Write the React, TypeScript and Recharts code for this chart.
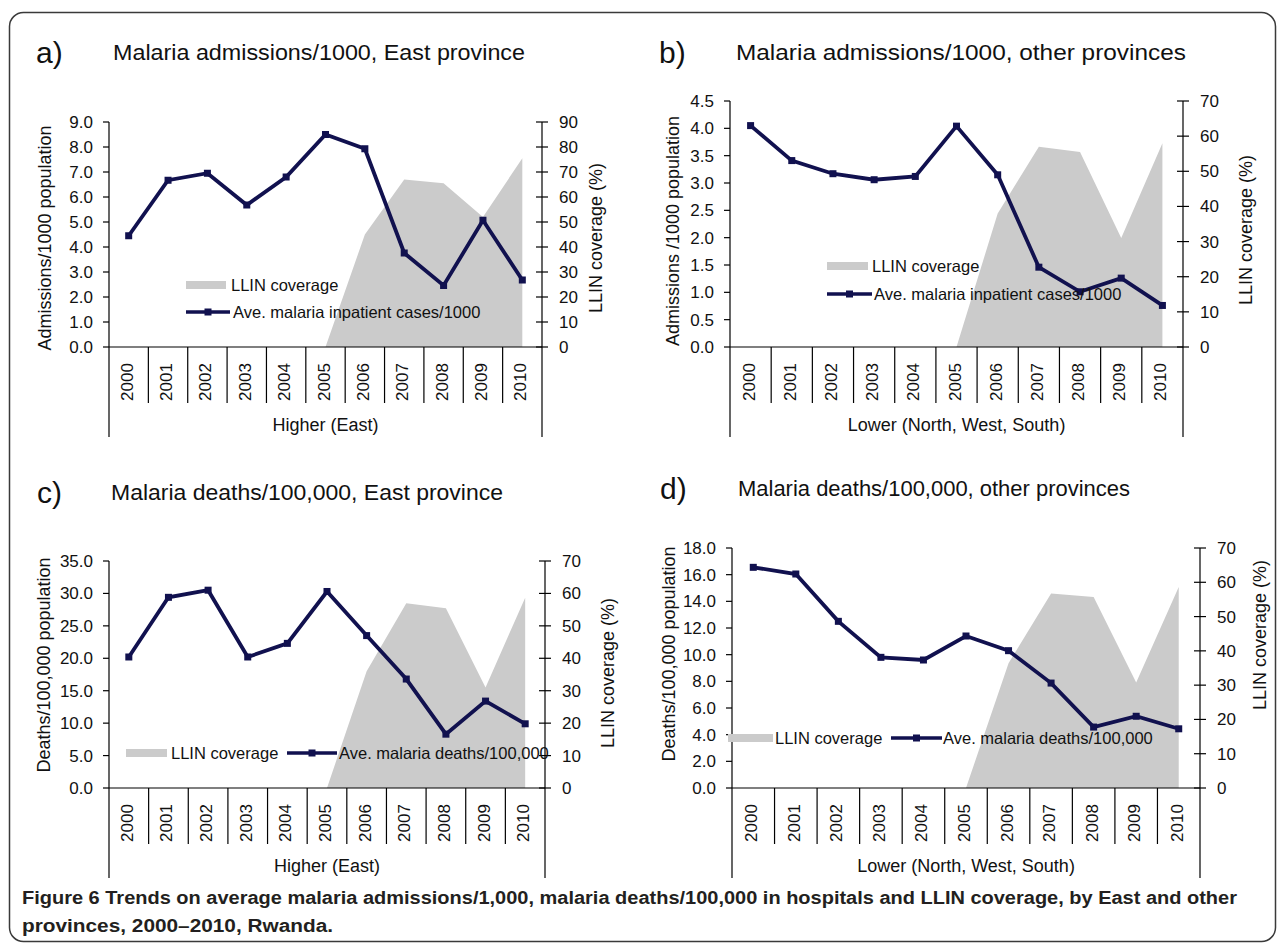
import React from 'react';
import { ComposedChart, Area, Line, XAxis, YAxis, Legend } from 'recharts';

// ---------- data ----------
const years = ['2000', '2001', '2002', '2003', '2004', '2005', '2006', '2007', '2008', '2009', '2010'];

const admissionsEast = [4.45, 6.67, 6.95, 5.68, 6.8, 8.5, 7.93, 3.76, 2.46, 5.07, 2.68];
const admissionsOther = [4.05, 3.41, 3.17, 3.06, 3.12, 4.04, 3.15, 1.46, 1.01, 1.26, 0.76];
const deathsEast = [20.2, 29.4, 30.5, 20.2, 22.3, 30.3, 23.5, 16.8, 8.3, 13.4, 9.9];
const deathsOther = [16.55, 16.05, 12.5, 9.8, 9.6, 11.4, 10.3, 7.87, 4.57, 5.38, 4.44];

const llinA = [null, null, null, null, null, 0, 45, 67, 65.5, 52, 75.5];
const llinB = [null, null, null, null, null, 0, 38, 57, 55.5, 31, 58];
const llinC = [null, null, null, null, null, 0, 36, 57, 55.4, 31, 58.7];
const llinD = [null, null, null, null, null, 0, 36.4, 56.7, 55.7, 30.8, 58.6];

const leftTicksA = [0, 1, 2, 3, 4, 5, 6, 7, 8, 9];
const leftTicksB = [0, 0.5, 1, 1.5, 2, 2.5, 3, 3.5, 4, 4.5];
const leftTicksC = [0, 5, 10, 15, 20, 25, 30, 35];
const leftTicksD = [0, 2, 4, 6, 8, 10, 12, 14, 16, 18];
const rightTicks90 = [0, 10, 20, 30, 40, 50, 60, 70, 80, 90];
const rightTicks70 = [0, 10, 20, 30, 40, 50, 60, 70];

const FONT = '"Liberation Sans", Arial, sans-serif';
const NAVY = '#11114f';
const GRAY = '#cbcbcb';
const INK = '#111111';

type Rect = { left: number; right: number; top: number; bottom: number };
type Panel = {
  id: string;
  plot: Rect;
  line: number[];
  llin: (number | null)[];
  leftTicks: number[];
  rightTicks: number[];
  group: string;
  lineName: string;
  legend: {
    swX: number; swW: number; swY: number; txt1X: number;
    lnX: number; lnW: number; lnY: number; txt2X: number;
  };
};

const panels: Panel[] = [
  {
    id: 'a', plot: { left: 109, right: 542, top: 122, bottom: 347 },
    line: admissionsEast, llin: llinA, leftTicks: leftTicksA, rightTicks: rightTicks90,
    group: 'Higher (East)', lineName: 'Ave. malaria inpatient cases/1000',
    legend: { swX: 186, swW: 40, swY: 285, txt1X: 231, lnX: 186, lnW: 44, lnY: 312, txt2X: 233 },
  },
  {
    id: 'b', plot: { left: 730, right: 1183, top: 101, bottom: 347 },
    line: admissionsOther, llin: llinB, leftTicks: leftTicksB, rightTicks: rightTicks70,
    group: 'Lower (North, West, South)', lineName: 'Ave. malaria inpatient cases/1000',
    legend: { swX: 827, swW: 41, swY: 266, txt1X: 872, lnX: 827, lnW: 45, lnY: 294, txt2X: 874 },
  },
  {
    id: 'c', plot: { left: 109, right: 545, top: 561, bottom: 788 },
    line: deathsEast, llin: llinC, leftTicks: leftTicksC, rightTicks: rightTicks70,
    group: 'Higher (East)', lineName: 'Ave. malaria deaths/100,000',
    legend: { swX: 126, swW: 41, swY: 753, txt1X: 171, lnX: 287, lnW: 50, lnY: 753, txt2X: 339 },
  },
  {
    id: 'd', plot: { left: 732, right: 1200, top: 548, bottom: 788 },
    line: deathsOther, llin: llinD, leftTicks: leftTicksD, rightTicks: rightTicks70,
    group: 'Lower (North, West, South)', lineName: 'Ave. malaria deaths/100,000',
    legend: { swX: 728, swW: 45, swY: 738, txt1X: 775, lnX: 891, lnW: 51, lnY: 738, txt2X: 943 },
  },
];

const titles = [
  { letter: 'a)', lx: 36, ly: 63, text: 'Malaria admissions/1000, East province', tx: 113, ty: 60, len: 412 },
  { letter: 'b)', lx: 659, ly: 63, text: 'Malaria admissions/1000, other provinces', tx: 736, ty: 60, len: 450 },
  { letter: 'c)', lx: 37, ly: 503, text: 'Malaria deaths/100,000, East province', tx: 111, ty: 500, len: 392 },
  { letter: 'd)', lx: 660, ly: 499, text: 'Malaria deaths/100,000, other provinces', tx: 738, ty: 496, len: 392 },
];

const axisTitles = [
  { text: 'Admissions/1000 population', x: 45, y: 238 },
  { text: 'LLIN coverage (%)', x: 596, y: 238 },
  { text: 'Admissions /1000 population', x: 673, y: 231 },
  { text: 'LLIN coverage (%)', x: 1246, y: 230 },
  { text: 'Deaths/100,000 population', x: 44, y: 665 },
  { text: 'LLIN coverage (%)', x: 608, y: 673 },
  { text: 'Deaths/100,000 population', x: 669, y: 654 },
  { text: 'LLIN coverage (%)', x: 1260, y: 635 },
];

const captionLine1 = 'Trends on average malaria admissions/1,000, malaria deaths/100,000 in hospitals and LLIN coverage, by East and other';
const captionLine2 = 'provinces, 2000\u20132010, Rwanda.';

// ---------- components ----------
const SquareDot = (props: any) => {
  const { cx, cy } = props;
  if (cx == null || cy == null) return <g key={props.key} />;
  return <rect key={props.key} x={cx - 3.5} y={cy - 3.5} width={7} height={7} fill={NAVY} />;
};

function PanelChart({ p }: { p: Panel }) {
  const box = {
    left: p.plot.left - 75,
    top: p.plot.top - 12,
    right: p.plot.right + 60,
    bottom: p.plot.bottom + 100,
  };
  const width = box.right - box.left;
  const height = box.bottom - box.top;
  const data = years.map((y, i) => ({ year: y, rate: p.line[i], llin: p.llin[i] }));
  const bw = (p.plot.right - p.plot.left) / years.length;
  const axisY = p.plot.bottom - box.top;
  const pl = p.plot.left - box.left;
  const pr = p.plot.right - box.left;

  const XTick = (props: any) => {
    const { x, index, payload } = props;
    return (
      <g>
        <text
          transform={`translate(${x + 4}, ${axisY + 35}) rotate(-90)`}
          textAnchor="middle"
          fontSize={17}
          fontFamily={FONT}
          fill={INK}
        >
          {payload.value}
        </text>
        {index > 0 && <line x1={x - bw / 2} x2={x - bw / 2} y1={axisY} y2={axisY + 56} stroke="#000" strokeWidth={1.2} />}
        {index === 0 && <line x1={pl} x2={pl} y1={axisY} y2={axisY + 90} stroke="#000" strokeWidth={1.2} />}
        {index === years.length - 1 && <line x1={pr} x2={pr} y1={axisY} y2={axisY + 90} stroke="#000" strokeWidth={1.2} />}
        {index === 0 && (
          <text x={(pl + pr) / 2} y={axisY + 84} textAnchor="middle" fontSize={18} fontFamily={FONT} fill={INK}>
            {p.group}
          </text>
        )}
      </g>
    );
  };

  const LeftTick = (props: any) => {
    const { x, y, payload } = props;
    return (
      <g>
        <line x1={x - 6} x2={x} y1={y} y2={y} stroke="#000" strokeWidth={1.2} />
        <text x={x - 16} y={y} dy={6} textAnchor="end" fontSize={17} fontFamily={FONT} fill={INK}>
          {Number(payload.value).toFixed(1)}
        </text>
      </g>
    );
  };

  const RightTick = (props: any) => {
    const { x, y, payload } = props;
    return (
      <g>
        <line x1={x - 6} x2={x + 6} y1={y} y2={y} stroke="#000" strokeWidth={1.2} />
        <text x={x + 17} y={y} dy={6} textAnchor="start" fontSize={17} fontFamily={FONT} fill={INK}>
          {payload.value}
        </text>
      </g>
    );
  };

  const lg = p.legend;
  const legendContent = () => (
    <div style={{ position: 'relative', width: 1, height: 1, fontFamily: FONT }}>
      <div
        style={{
          position: 'absolute', left: lg.swX - box.left, top: lg.swY - box.top - 4,
          width: lg.swW, height: 8, background: GRAY,
        }}
      />
      <span
        style={{
          position: 'absolute', left: lg.txt1X - box.left, top: lg.swY - box.top - 10,
          fontSize: 16.5, lineHeight: '20px', whiteSpace: 'nowrap', color: INK,
        }}
      >
        LLIN coverage
      </span>
      <svg
        style={{ position: 'absolute', left: lg.lnX - box.left, top: lg.lnY - box.top - 5, overflow: 'visible' }}
        width={lg.lnW}
        height={10}
      >
        <line x1={0} x2={lg.lnW} y1={5} y2={5} stroke={NAVY} strokeWidth={3.5} />
        <rect x={lg.lnW / 2 - 3.5} y={1.5} width={7} height={7} fill={NAVY} />
      </svg>
      <span
        style={{
          position: 'absolute', left: lg.txt2X - box.left, top: lg.lnY - box.top - 10,
          fontSize: 16.5, lineHeight: '20px', whiteSpace: 'nowrap', color: INK,
        }}
      >
        {p.lineName}
      </span>
    </div>
  );

  const leftMax = p.leftTicks[p.leftTicks.length - 1];
  const rightMax = p.rightTicks[p.rightTicks.length - 1];

  return (
    <div style={{ position: 'absolute', left: box.left, top: box.top, width, height }}>
      <ComposedChart width={width} height={height} data={data} margin={{ top: 12, right: 0, bottom: 0, left: 0 }}>
        <XAxis
          dataKey="year"
          scale="band"
          interval={0}
          height={box.bottom - p.plot.bottom}
          tickSize={0}
          tickMargin={0}
          tickLine={false}
          axisLine={{ stroke: '#000', strokeWidth: 1.2 }}
          tick={XTick}
        />
        <YAxis
          yAxisId="left"
          orientation="left"
          width={p.plot.left - box.left}
          domain={[0, leftMax]}
          ticks={p.leftTicks}
          interval={0}
          tickSize={0}
          tickMargin={0}
          tickLine={false}
          axisLine={{ stroke: '#000', strokeWidth: 1.2 }}
          tick={LeftTick}
        />
        <YAxis
          yAxisId="right"
          orientation="right"
          width={box.right - p.plot.right}
          domain={[0, rightMax]}
          ticks={p.rightTicks}
          interval={0}
          tickSize={0}
          tickMargin={0}
          tickLine={false}
          axisLine={{ stroke: '#000', strokeWidth: 1.2 }}
          tick={RightTick}
        />
        <Area
          yAxisId="right"
          dataKey="llin"
          name="LLIN coverage"
          type="linear"
          fill={GRAY}
          fillOpacity={1}
          stroke="none"
          isAnimationActive={false}
          dot={false}
          activeDot={false}
        />
        <Line
          yAxisId="left"
          dataKey="rate"
          name={p.lineName}
          type="linear"
          stroke={NAVY}
          strokeWidth={3.8}
          dot={SquareDot}
          activeDot={false}
          isAnimationActive={false}
        />
        <Legend
          layout="vertical"
          align="center"
          verticalAlign="middle"
          content={legendContent}
          wrapperStyle={{ left: 0, top: 0, width: 1, height: 1 }}
        />
      </ComposedChart>
    </div>
  );
}

export default function App() {
  return (
    <div style={{ position: 'absolute', left: 0, top: 0, width: 1282, height: 946, background: '#fff', overflow: 'hidden' }}>
      <svg width={1282} height={946} style={{ position: 'absolute', left: 0, top: 0 }}>
        <rect x={9.5} y={12.5} width={1266} height={929} rx={14} ry={14} fill="none" stroke="#3a3a3a" strokeWidth={1.5} />
        {titles.map((t) => (
          <g key={t.letter}>
            <text x={t.lx} y={t.ly} fontSize={30} fontFamily={FONT} fill={INK}>{t.letter}</text>
            <text
              x={t.tx}
              y={t.ty}
              fontSize={21.5}
              fontFamily={FONT}
              fill={INK}
              textLength={t.len}
              lengthAdjust="spacingAndGlyphs"
            >
              {t.text}
            </text>
          </g>
        ))}
        {axisTitles.map((a, i) => (
          <text
            key={i}
            transform={`translate(${a.x}, ${a.y}) rotate(-90)`}
            textAnchor="middle"
            dominantBaseline="central"
            fontSize={18}
            fontFamily={FONT}
            fill={INK}
          >
            {a.text}
          </text>
        ))}
        <text x={22} y={904} fontSize={18} fontWeight="bold" fontFamily={FONT} fill="#231f20" textLength={1215} lengthAdjust="spacingAndGlyphs">
          <tspan>Figure 6 </tspan>
          <tspan>{captionLine1}</tspan>
        </text>
        <text x={22} y={932} fontSize={18} fontWeight="bold" fontFamily={FONT} fill="#231f20" textLength={311} lengthAdjust="spacingAndGlyphs">
          {captionLine2}
        </text>
      </svg>
      {panels.map((p) => (
        <PanelChart key={p.id} p={p} />
      ))}
    </div>
  );
}
